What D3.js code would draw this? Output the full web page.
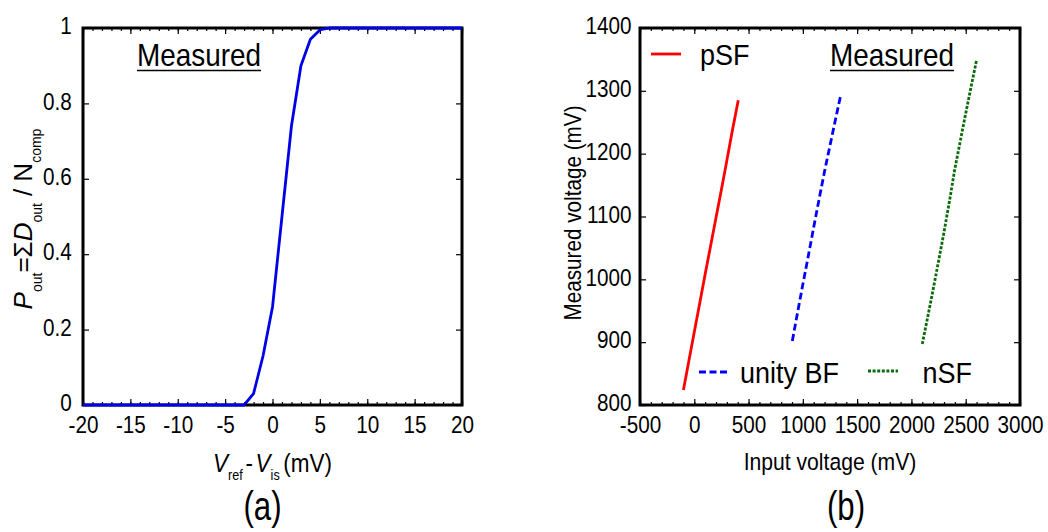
<!DOCTYPE html>
<html>
<head>
<meta charset="utf-8">
<script src="https://cdn.jsdelivr.net/npm/d3@7"></script>
<style>
  html, body { margin: 0; padding: 0; background: #fff; }
  svg { display: block; }
  text { font-family: "Liberation Sans", Arial, Helvetica, sans-serif; fill: #000; }
</style>
</head>
<body>
<svg id="fig" width="1048" height="532"></svg>
<script>
// ---- panel (a): comparator output probability vs. V_ref - V_is ----
const diffMv = [-20,-19,-18,-17,-16,-15,-14,-13,-12,-11,-10,-9,-8,-7,-6,-5,-4,-3,-2,-1,
                0,1,2,3,4,5,6,7,8,9,10,11,12,13,14,15,16,17,18,19,20];
const pOut   = [0,0,0,0,0,0,0,0,0,0,0,0,0,0,0,0,0,0,0.03,0.13,
                0.26,0.5,0.74,0.9,0.97,0.995,1,1,1,1,1,1,1,1,1,1,1,1,1,1,1];
const aXTicks = [-20,-15,-10,-5,0,5,10,15,20];
const aYTicks = [0,0.2,0.4,0.6,0.8,1];

// ---- panel (b): measured vs. input voltage of the three followers ----
const psfIn   = [-100,-50,0,50,100,150,200,250,300,350,405];
const psfOut  = [824,870,916,962,1008,1053,1098,1143,1189,1236,1285];
const bfIn    = [903,950,1000,1050,1100,1150,1200,1250,1300,1351];
const bfOut   = [902,946,992,1037,1083,1128,1172,1213,1254,1295];
const nsfIn   = [2100,2150,2200,2250,2300,2350,2400,2450,2500,2550,2600];
const nsfOut  = [897,940,984,1029,1075,1124,1176,1220,1264,1307,1349];
const bXTicks = [-500,0,500,1000,1500,2000,2500,3000];
const bYTicks = [800,900,1000,1100,1200,1300,1400];

const SX = 0.9;   // glyphs of this figure are slightly condensed
const svg = d3.select("#fig");

function label(parent, x, y, size, anchor, rot, sx) {
  const g = parent.append("g")
    .attr("transform", `translate(${x},${y})` + (rot ? ` rotate(${rot})` : "") + ` scale(${sx == null ? SX : sx},1)`);
  const t = g.append("text").attr("text-anchor", anchor).style("font-size", size + "px");
  return t;
}

function underlined(parent, x, y, size, str) {
  const t = label(parent, x, y, size, "start").text(str);
  const len = t.node().getComputedTextLength();
  d3.select(t.node().parentNode).append("line")
    .attr("x1", 0).attr("x2", len).attr("y1", 4.5).attr("y2", 4.5)
    .attr("stroke", "#000").attr("stroke-width", 1.7);
}

function frame(g, x, y, xMaj, xMin, yMaj, fmtX, fmtY, yPad) {
  const [x0, x1] = x.range(), [y0, y1] = y.range();
  const styleAxis = sel => {
    sel.attr("font-size", null).attr("font-family", null);
    sel.select(".domain").remove();
    sel.selectAll(".tick line").attr("stroke", "#000").attr("stroke-width", 1.2);
  };
  // minor ticks, bottom and top
  g.append("g").attr("transform", `translate(0,${y0})`)
    .call(d3.axisBottom(x).tickValues(xMin).tickSizeInner(-3).tickSizeOuter(0).tickFormat(""))
    .call(styleAxis);
  g.append("g").attr("transform", `translate(0,${y1})`)
    .call(d3.axisTop(x).tickValues(xMin).tickSizeInner(-3).tickSizeOuter(0).tickFormat(""))
    .call(styleAxis);
  // major ticks with labels
  const bx = g.append("g").attr("transform", `translate(0,${y0})`)
    .call(d3.axisBottom(x).tickValues(xMaj).tickSizeInner(-6).tickSizeOuter(0).tickPadding(12).tickFormat(fmtX))
    .call(styleAxis);
  bx.selectAll("text").style("font-size", "23px").attr("transform", `scale(${SX},1)`);
  g.append("g").attr("transform", `translate(0,${y1})`)
    .call(d3.axisTop(x).tickValues(xMaj).tickSizeInner(-6).tickSizeOuter(0).tickFormat(""))
    .call(styleAxis);
  const ly = g.append("g").attr("transform", `translate(${x0},0)`)
    .call(d3.axisLeft(y).tickValues(yMaj).tickSizeInner(-6).tickSizeOuter(0).tickPadding(yPad).tickFormat(fmtY))
    .call(styleAxis);
  ly.selectAll("text").style("font-size", "23px").attr("dy", "0.25em").attr("transform", `scale(${SX},1)`);
  g.append("g").attr("transform", `translate(${x1},0)`)
    .call(d3.axisRight(y).tickValues(yMaj).tickSizeInner(-6).tickSizeOuter(0).tickFormat(""))
    .call(styleAxis);
  g.append("rect")
    .attr("x", x0).attr("y", y1).attr("width", x1 - x0).attr("height", y0 - y1)
    .attr("fill", "none").attr("stroke", "#000").attr("stroke-width", 3);
}

// ================= panel (a) =================
const ga = svg.append("g");
const xA = d3.scaleLinear().domain([-20, 20]).range([83, 462]);
const yA = d3.scaleLinear().domain([0, 1]).range([405, 28]);
frame(ga, xA, yA, aXTicks, d3.range(-20, 21, 1), aYTicks, d => String(d), d => String(d), 12.5);

ga.append("path")
  .datum(diffMv.map((d, i) => [d, pOut[i]]))
  .attr("fill", "none").attr("stroke", "#0000e8").attr("stroke-width", 2.8)
  .attr("stroke-linejoin", "round")
  .attr("d", d3.line().x(d => xA(d[0])).y(d => yA(d[1])));

underlined(ga, 137, 66, 31, "Measured");

// x-axis title: V_ref - V_is (mV)
{
  const t = label(ga, (xA.range()[0] + xA.range()[1]) / 2, 472, 25, "middle");
  t.append("tspan").style("font-style", "italic").text("V");
  t.append("tspan").attr("dy", 8).style("font-size", "14px").text("ref");
  t.append("tspan").attr("dy", -8).attr("dx", 3).text("-");
  t.append("tspan").attr("dx", 3).style("font-style", "italic").text("V");
  t.append("tspan").attr("dy", 8).style("font-size", "14px").text("is");
  t.append("tspan").attr("dy", -8).attr("dx", 4).text("(mV)");
}
// y-axis title: P_out = ΣD_out / N_comp
{
  const t = label(ga, 32, 219, 26, "middle", -90, 1);
  t.append("tspan").style("font-style", "italic").text("P");
  t.append("tspan").attr("dy", 10).style("font-size", "14px").text("out");
  t.append("tspan").attr("dy", -10).text("=Σ");
  t.append("tspan").style("font-style", "italic").text("D");
  t.append("tspan").attr("dy", 10).style("font-size", "14px").text("out");
  t.append("tspan").attr("dy", -10).attr("dx", 7).text("/ N");
  t.append("tspan").attr("dy", 9).style("font-size", "14px").text("comp");
}
label(ga, 262.5, 520, 40, "middle", 0, 0.78).text("(a)");

// ================= panel (b) =================
const gb = svg.append("g");
const xB = d3.scaleLinear().domain([-500, 3000]).range([640, 1020]);
const yB = d3.scaleLinear().domain([800, 1400]).range([405, 28]);
frame(gb, xB, yB, bXTicks, d3.range(-500, 3001, 100), bYTicks, d => String(d), d => String(d), 9.5);

const lineB = d3.line().x(d => xB(d[0])).y(d => yB(d[1]));
const series = [
  { name: "pSF",      xs: psfIn, ys: psfOut, color: "#ff0000", dash: null,    lx: 651, ly: 54,  tx: 700,   ty: 65 },
  { name: "unity BF", xs: bfIn,  ys: bfOut,  color: "#0000ff", dash: "7,3.5", lx: 699, ly: 372, tx: 740,   ty: 383 },
  { name: "nSF",      xs: nsfIn, ys: nsfOut, color: "#0b6b0b", dash: "3,1.6", lx: 868, ly: 371, tx: 922.5, ty: 383 }
];
series.forEach(s => {
  gb.append("path")
    .datum(s.xs.map((v, i) => [v, s.ys[i]]))
    .attr("fill", "none").attr("stroke", s.color).attr("stroke-width", 2.8)
    .attr("stroke-dasharray", s.dash)
    .attr("d", lineB);
  gb.append("line")
    .attr("x1", s.lx).attr("x2", s.lx + 30).attr("y1", s.ly).attr("y2", s.ly)
    .attr("stroke", s.color).attr("stroke-width", 2.8).attr("stroke-dasharray", s.dash);
  label(gb, s.tx, s.ty, 30, "start").text(s.name);
});

underlined(gb, 830, 66, 31, "Measured");

label(gb, (xB.range()[0] + xB.range()[1]) / 2, 470, 23.5, "middle").text("Input voltage (mV)");
label(gb, 581, 213, 23, "middle", -90).text("Measured voltage (mV)");
label(gb, 846, 520, 40, "middle", 0, 0.78).text("(b)");
</script>
</body>
</html>
